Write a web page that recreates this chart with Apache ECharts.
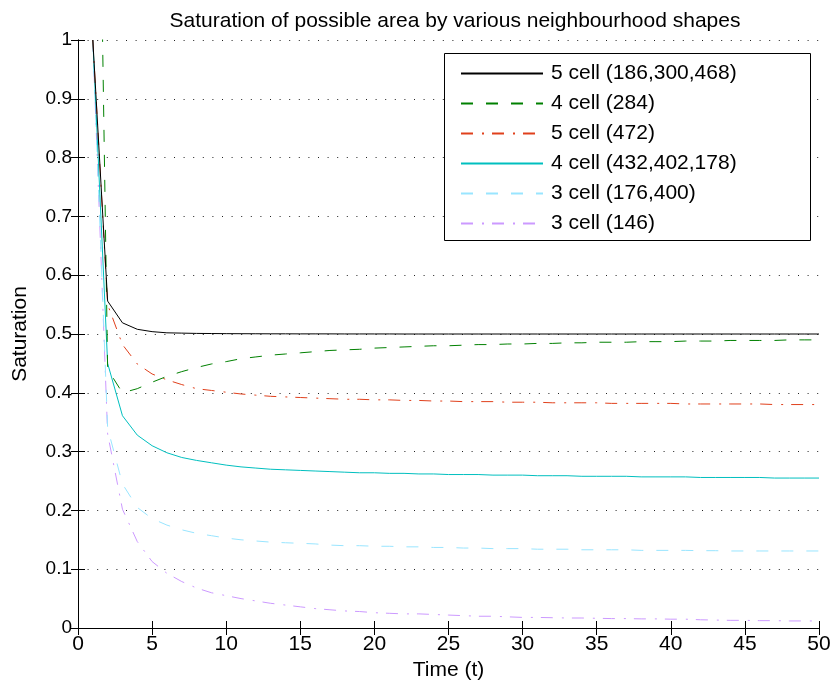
<!DOCTYPE html>
<html>
<head>
<meta charset="utf-8">
<script src="https://cdn.jsdelivr.net/npm/echarts@6/dist/echarts.min.js"></script>
<style>
html,body{margin:0;padding:0;background:#fff;}
#chart{width:834px;height:686px;}
</style>
</head>
<body>
<div id="chart"></div>
<script>
var times = [1,2,3,4,5,6,7,8,9,10,11,12,13,14,15,16,17,18,19,20,21,22,23,24,25,26,27,28,29,30,31,32,33,34,35,36,37,38,39,40,41,42,43,44,45,46,47,48,49,50];

var seriesNames = ['5 cell (186,300,468)','4 cell (284)','5 cell (472)','4 cell (432,402,178)','3 cell (176,400)','3 cell (146)'];

var cell5a = [1,0.556,0.519,0.508,0.504,0.502,0.5015,0.501,0.5008,0.5006,0.5005,0.5004,0.5003,0.5003,0.5002,0.5002,0.5002,0.5001,0.5001,0.5001,0.5001,0.5,0.5,0.5,0.5,0.5,0.5,0.5,0.5,0.5,0.5,0.5,0.5,0.5,0.5,0.5,0.5,0.5,0.5,0.5,0.5,0.5,0.5,0.5,0.5,0.5,0.5,0.5,0.5,0.5];

var cell4a = [2.08,0.44,0.400,0.407,0.418,0.428,0.436,0.443,0.449,0.453,0.458,0.461,0.464,0.466,0.468,0.470,0.472,0.473,0.474,0.476,0.477,0.478,0.479,0.480,0.480,0.481,0.482,0.482,0.483,0.483,0.484,0.484,0.485,0.485,0.486,0.486,0.486,0.487,0.487,0.487,0.488,0.488,0.488,0.489,0.489,0.489,0.489,0.490,0.490,0.490];

var cell5b = [1,0.55,0.482,0.449,0.432,0.422,0.414,0.407,0.404,0.401,0.398,0.396,0.394,0.393,0.392,0.391,0.390,0.389,0.389,0.388,0.388,0.387,0.387,0.386,0.386,0.385,0.385,0.385,0.384,0.384,0.384,0.383,0.383,0.383,0.383,0.382,0.382,0.382,0.382,0.382,0.381,0.381,0.381,0.381,0.381,0.381,0.380,0.380,0.380,0.380];

var cell4b = [1,0.45,0.361,0.328,0.310,0.298,0.290,0.285,0.281,0.277,0.274,0.272,0.270,0.269,0.268,0.267,0.266,0.265,0.264,0.264,0.263,0.263,0.262,0.262,0.261,0.261,0.261,0.260,0.260,0.260,0.259,0.259,0.259,0.258,0.258,0.258,0.258,0.257,0.257,0.257,0.257,0.256,0.256,0.256,0.256,0.256,0.255,0.255,0.255,0.255];

var cell3a = [1,0.34,0.245,0.205,0.186,0.175,0.167,0.161,0.157,0.153,0.150,0.148,0.146,0.145,0.144,0.143,0.141,0.140,0.140,0.139,0.139,0.138,0.138,0.137,0.137,0.136,0.136,0.135,0.135,0.135,0.134,0.134,0.134,0.133,0.133,0.133,0.133,0.132,0.132,0.132,0.132,0.1315,0.1315,0.131,0.131,0.131,0.131,0.131,0.131,0.131];

var cell3b = [1,0.33,0.202,0.147,0.113,0.093,0.079,0.068,0.060,0.055,0.050,0.046,0.042,0.039,0.036,0.033,0.031,0.029,0.028,0.026,0.025,0.024,0.024,0.023,0.022,0.021,0.020,0.020,0.019,0.018,0.018,0.0175,0.017,0.017,0.0165,0.016,0.016,0.0155,0.0155,0.015,0.015,0.014,0.0135,0.013,0.013,0.0125,0.0125,0.012,0.012,0.012];

var xTicks = [0,5,10,15,20,25,30,35,40,45,50];
var yTicks = ['0','0.1','0.2','0.3','0.4','0.5','0.6','0.7','0.8','0.9','1'];

var FONT = 'Liberation Sans';
var FS = 21;

function pairs(vals){ return times.map(function(t,i){ return [t, vals[i]]; }); }

var allVals = [cell5a, cell4a, cell5b, cell4b, cell3a, cell3b];
var colors = ['#000000','#008000','#e0401c','#00bfbf','#99e5ff','#cc99ff'];
var dashes = ['solid',[12,13],[12,9,2,8],'solid',[12,13],[12,9,2,8]];

var series = allVals.map(function(v,i){
  return {
    name: seriesNames[i],
    type: 'line',
    data: pairs(v),
    xAxisIndex: 0,
    yAxisIndex: 0,
    symbol: 'none',
    showSymbol: false,
    clip: true,
    lineStyle: {color: colors[i], width: 1, type: dashes[i]},
    itemStyle: {color: colors[i]},
    z: 2 + (6 - i) * 0.01
  };
});

var axisCommonX = {
  type: 'value', min: 0, max: 50, interval: 5,
  axisLine: {show: true, lineStyle: {color: '#000', width: 1}},
  axisTick: {show: true, inside: true, length: 7, lineStyle: {color: '#000'}},
  splitLine: {show: false}
};
var axisCommonY = {
  type: 'value', min: 0, max: 1, interval: 0.1,
  axisLine: {show: true, lineStyle: {color: '#000', width: 1}},
  axisTick: {show: true, inside: true, length: 7, lineStyle: {color: '#000'}}
};

var chart = echarts.init(document.getElementById('chart'), null, {renderer: 'canvas'});
chart.setOption({
  animation: false,
  backgroundColor: '#fff',
  title: {
    text: 'Saturation of possible area by various neighbourhood shapes',
    left: 450, top: 6, textAlign: 'center',
    textStyle: {fontFamily: FONT, fontSize: FS, fontWeight: 'normal', color: '#000'}
  },
  grid: {left: 78, right: 15, top: 40, bottom: 58, containLabel: false},
  xAxis: [
    Object.assign({}, axisCommonX, {
      position: 'bottom',
      name: 'Time (t)', nameLocation: 'middle', nameGap: 27,
      nameTextStyle: {fontFamily: FONT, fontSize: FS, color: '#000'},
      axisLabel: {show: true, fontFamily: FONT, fontSize: FS, color: '#000', margin: 6,
        formatter: function(v){ return xTicks.indexOf(v) >= 0 ? String(v) : ''; }}
    }),
    Object.assign({}, axisCommonX, {position: 'top', axisLabel: {show: false}})
  ],
  yAxis: [
    Object.assign({}, axisCommonY, {
      position: 'left',
      name: 'Saturation', nameLocation: 'middle', nameGap: 47, nameRotate: 90,
      nameTextStyle: {fontFamily: FONT, fontSize: FS, color: '#000'},
      axisLabel: {show: true, fontFamily: FONT, fontSize: 19, color: '#000', margin: 6,
        formatter: function(v){ return yTicks[Math.round(v * 10)]; }},
      splitLine: {show: true, lineStyle: {color: '#222', width: 1, type: [1, 8.6]}}
    }),
    Object.assign({}, axisCommonY, {position: 'right', axisLabel: {show: false}, splitLine: {show: false}})
  ],
  legend: {
    orient: 'vertical',
    left: 460, top: 63,
    itemWidth: 82, itemHeight: 14, itemGap: 9,
    padding: 0,
    data: seriesNames,
    itemStyle: {opacity: 0},
    textStyle: {fontFamily: FONT, fontSize: FS, color: '#000', padding: [0,0,0,3]},
    z: 10
  },
  graphic: [{
    type: 'rect', z: 5, silent: true,
    shape: {x: 444.5, y: 53.5, width: 366, height: 187},
    style: {fill: '#fff', stroke: '#000', lineWidth: 1}
  }],
  series: series
});
</script>
</body>
</html>
